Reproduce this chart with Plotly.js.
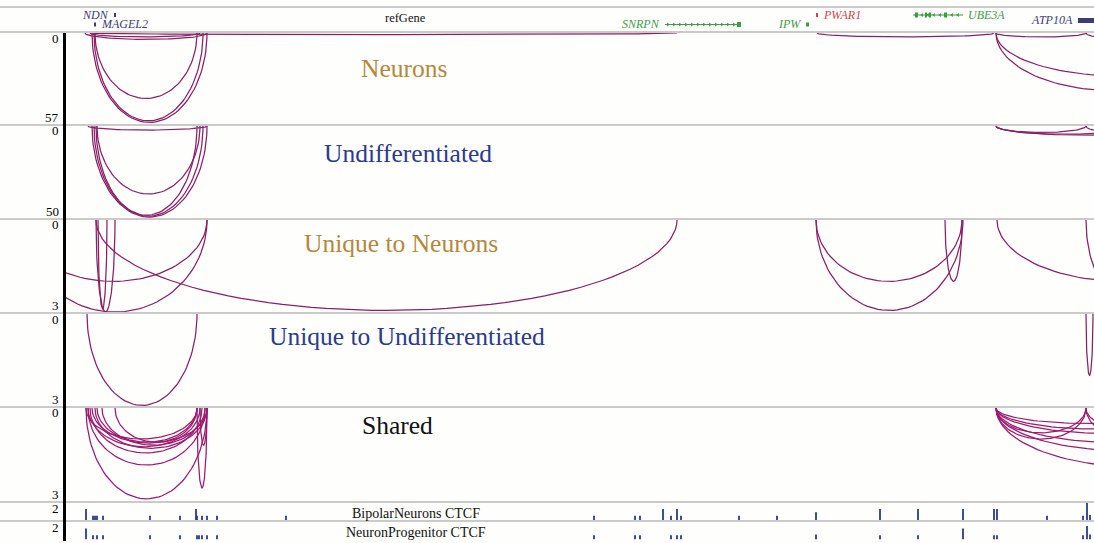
<!DOCTYPE html>
<html><head><meta charset="utf-8">
<script src="https://cdn.plot.ly/plotly-3.0.1.min.js"></script>
<style>html,body{margin:0;padding:0;background:#fefefc;} #chart{width:1094px;height:543px;}</style>
</head><body><div id="chart"></div>
<script>
// ---------- DATA ----------
const panelNames = ['Neurons', 'Undifferentiated', 'Unique to Neurons', 'Unique to Undifferentiated', 'Shared'];
const panelMax = [57, 50, 3, 3, 3];

const neuronsStart = [92, 94, 95, 85, 90, 90, 817, 996, 996, 996, 1086];
const neuronsEnd   = [207, 203, 197, 207, 200, 677, 994, 1250, 1230, 1086, 1140];
const neuronsScore = [56, 55, 41, 4, 2.5, 1, 2.5, 27, 36, 2.5, 3];

const undiffStart = [92, 94, 96, 97, 88, 996, 996, 996, 1086];
const undiffEnd   = [207, 203, 197, 200, 207, 1140, 1180, 1086, 1130];
const undiffScore = [49.5, 49, 48.5, 37, 2.2, 4.5, 5, 3.5, 3];

const uniqNeuStart = [96, 98, 96, 20, 23, 816, 816, 945, 997, 1086];
const uniqNeuEnd   = [115, 107, 677, 207, 207, 962, 963, 962, 1250, 1160];
const uniqNeuScore = [3, 2.9, 2.95, 2.0, 3.0, 2.0, 2.95, 2.0, 2.0, 2.5];

const uniqUndStart = [87, 1086];
const uniqUndEnd   = [197, 1093];
const uniqUndScore = [2.98, 2.0];

const sharedStart = [86, 88, 90, 92, 97, 102, 115, 86, 95, 88, 197, 200, 996, 996, 996, 996, 996, 996, 996, 996, 1086, 1086];
const sharedEnd   = [207, 205, 202, 207, 197, 205, 197, 197, 207, 200, 207, 207, 1086, 1086, 1180, 1200, 1220, 1240, 1260, 1280, 1150, 1180];
const sharedScore = [2.93, 1.84, 1.45, 1.13, 1.1, 1.2, 1.1, 1.0, 1.3, 1.25, 2.58, 1.2, 1.0, 0.8, 0.5, 0.68, 0.82, 1.12, 1.38, 1.9, 0.6, 1.0];

const ctcfBipolarX = [86, 93, 95, 97, 103, 150, 180, 196, 197, 202, 207, 217, 286, 594, 635, 640, 663, 671, 677, 681, 739, 777, 816, 880, 918, 963, 994, 997, 1047, 1083, 1087, 1090];
const ctcfBipolarH = [1.3, 0.5, 0.5, 0.5, 0.5, 0.5, 0.5, 1.3, 0.5, 0.5, 0.5, 0.5, 0.5, 0.5, 0.5, 0.5, 1.3, 0.5, 1.3, 0.5, 0.5, 0.5, 0.9, 1.3, 1.3, 1.3, 1.3, 1.3, 0.5, 0.5, 2.0, 0.6];
const ctcfProgX = [86, 93, 97, 103, 150, 180, 197, 199, 202, 207, 217, 594, 635, 640, 671, 677, 681, 816, 880, 918, 963, 994, 997, 1083, 1087, 1090];
const ctcfProgH = [1.3, 0.5, 0.5, 0.5, 0.5, 0.5, 0.5, 0.5, 0.5, 0.5, 0.5, 0.5, 0.5, 0.5, 0.5, 0.5, 0.5, 0.6, 0.5, 0.5, 1.3, 0.5, 0.5, 0.5, 1.6, 0.6];

const geneName  = ['NDN', 'MAGEL2', 'SNRPN', 'IPW', 'PWAR1', 'UBE3A', 'ATP10A'];
const geneStart = [114, 94, 665, 806, 816, 913, 1078];
const geneEnd   = [116, 96, 741, 809, 818, 963, 1120];
const geneRow   = [8, 17.5, 17.5, 17.5, 8, 8, 13.5];
const geneColor = ['#3c3c78', '#3c3c78', '#3f9b45', '#3f9b45', '#d4424f', '#3f9b45', '#3c3c78'];
const geneLabelSide = ['left', 'right', 'left', 'left', 'right', 'right', 'left'];
const exonGene  = [2, 5, 5, 5, 5, 6];
const exonStart = [737, 915, 925, 929, 944, 1078];
const exonEnd   = [741, 918, 927, 931, 947, 1120];

// ---------- LAYOUT HELPERS ----------
const W = 1094, H = 543;
const px = v => v / W;
const py = v => 1 - v / H;
const panelTop = [33, 126, 220, 314, 408];
const panelBot = [124, 218, 312, 406, 501];
const titleY = [68, 153, 244, 336, 425];
const titleX = [404, 408, 401, 407, 397];
const titleColor = ['#b4883c', '#2b3a8e', '#b4883c', '#2b3a8e', '#111111'];
const serif = 'Liberation Serif, Times New Roman, serif';
const arcColor = ['#8a1f66', '#8a1f66', '#8a1f66', '#8a1f66', '#9c1a70'];

function arcs(s, e, d) {
  const xs = [], ys = [];
  for (let i = 0; i < s.length; i++) {
    const c = (s[i] + e[i]) / 2, a = (e[i] - s[i]) / 2;
    for (let k = 0; k <= 60; k++) {
      const t = Math.PI * k / 60;
      xs.push(c - a * Math.cos(t));
      ys.push(d[i] * Math.sin(t));
    }
    xs.push(null); ys.push(null);
  }
  return {xs, ys};
}

const arcSets = [
  [neuronsStart, neuronsEnd, neuronsScore],
  [undiffStart, undiffEnd, undiffScore],
  [uniqNeuStart, uniqNeuEnd, uniqNeuScore],
  [uniqUndStart, uniqUndEnd, uniqUndScore],
  [sharedStart, sharedEnd, sharedScore]
];

const traces = [];
arcSets.forEach((set, i) => {
  const r = arcs(set[0], set[1], set[2]);
  traces.push({type: 'scatter', mode: 'lines', x: r.xs, y: r.ys, yaxis: 'y' + (i + 2),
    line: {color: arcColor[i], width: 1.25}, hoverinfo: 'skip', connectgaps: false});
});

// genes
geneName.forEach((g, i) => {
  traces.push({type: 'scatter', mode: 'lines', x: [geneStart[i], geneEnd[i]], y: [geneRow[i], geneRow[i]],
    yaxis: 'y', line: {color: geneColor[i], width: (geneEnd[i] - geneStart[i] < 5) ? 4 : 1}, hoverinfo: 'skip'});
  if (geneEnd[i] - geneStart[i] > 20) {
    const mx = [], my = [];
    for (let x = geneStart[i] + 3; x < geneEnd[i] - 2; x += 6) { mx.push(x); my.push(geneRow[i]); }
    traces.push({type: 'scatter', mode: 'markers', x: mx, y: my, yaxis: 'y', hoverinfo: 'skip',
      marker: {symbol: (i === 5 || i === 6) ? 'triangle-left' : 'triangle-right', size: 3.5, color: geneColor[i]}});
  }
});
exonGene.forEach((g, j) => {
  traces.push({type: 'scatter', mode: 'lines', x: [exonStart[j], exonEnd[j]], y: [geneRow[g], geneRow[g]],
    yaxis: 'y', line: {color: geneColor[g], width: 5}, hoverinfo: 'skip'});
});

// CTCF
traces.push({type: 'bar', x: ctcfBipolarX, y: ctcfBipolarH, width: 1.8, yaxis: 'y7',
  marker: {color: '#2b3a8c', line: {width: 0}}, hoverinfo: 'skip'});
traces.push({type: 'bar', x: ctcfProgX, y: ctcfProgH, width: 1.8, yaxis: 'y8',
  marker: {color: '#2b3a8c', line: {width: 0}}, hoverinfo: 'skip'});

const hidden = {showgrid: false, zeroline: false, showticklabels: false, showline: false, ticks: '', fixedrange: true};
const layout = {
  width: W, height: H, margin: {l: 0, r: 0, t: 0, b: 0},
  paper_bgcolor: '#fefefc', plot_bgcolor: 'rgba(0,0,0,0)', showlegend: false, barmode: 'overlay',
  font: {family: serif, color: '#000'},
  xaxis: Object.assign({}, hidden, {domain: [px(66), 1], range: [66, 1094], anchor: 'y8'}),
  yaxis: Object.assign({}, hidden, {domain: [py(32), py(7)], range: [25, 0], anchor: 'x'}),
  yaxis7: Object.assign({}, hidden, {domain: [py(520), py(503)], range: [0, 2], anchor: 'x'}),
  yaxis8: Object.assign({}, hidden, {domain: [py(539.5), py(522.5)], range: [0, 2], anchor: 'x'}),
  shapes: [], annotations: []
};
panelNames.forEach((n, i) => {
  layout['yaxis' + (i + 2)] = Object.assign({}, hidden, {domain: [py(panelBot[i]), py(panelTop[i])], range: [panelMax[i], 0], anchor: 'x'});
  layout.annotations.push({xref: 'paper', yref: 'paper', x: px(titleX[i]), y: py(titleY[i]), text: n,
    showarrow: false, xanchor: 'center', yanchor: 'middle', font: {family: serif, size: 25.5, color: titleColor[i]}});
  layout.annotations.push({xref: 'paper', yref: 'paper', x: px(61), y: py(panelTop[i] + 5), text: '0',
    showarrow: false, xanchor: 'right', yanchor: 'middle', font: {family: serif, size: 13, color: '#000'}});
  layout.annotations.push({xref: 'paper', yref: 'paper', x: px(61), y: py(panelBot[i] - 7), text: String(panelMax[i]),
    showarrow: false, xanchor: 'right', yanchor: 'middle', font: {family: serif, size: 13, color: '#000'}});
});
// CTCF axis labels and names
[[508, 'BipolarNeurons CTCF', 513], [527, 'NeuronProgenitor CTCF', 532.5]].forEach(a => {
  layout.annotations.push({xref: 'paper', yref: 'paper', x: px(61), y: py(a[0]), text: '2', showarrow: false,
    xanchor: 'right', yanchor: 'middle', font: {family: serif, size: 13, color: '#000'}});
  layout.annotations.push({xref: 'paper', yref: 'paper', x: px(416), y: py(a[2]), text: a[1], showarrow: false,
    xanchor: 'center', yanchor: 'middle', font: {family: serif, size: 14, color: '#111'}});
});
// gene labels
layout.annotations.push({xref: 'paper', yref: 'paper', x: px(405), y: py(18), text: 'refGene', showarrow: false,
  xanchor: 'center', yanchor: 'middle', font: {family: serif, size: 12.5, color: '#111'}});
geneName.forEach((g, i) => {
  const left = geneLabelSide[i] === 'left';
  layout.annotations.push({xref: 'x', yref: 'y', x: left ? geneStart[i] - 3 : geneEnd[i] + 3, y: geneRow[i],
    text: '<i>' + g + '</i>', showarrow: false, xanchor: left ? 'right' : 'left', yanchor: 'middle',
    font: {family: serif, size: 12, color: geneColor[i]}});
});
// separators
[7, 32, 125, 219, 313, 407, 502, 521].forEach(y => {
  layout.shapes.push({type: 'line', xref: 'paper', yref: 'paper', x0: 0, x1: 1, y0: py(y), y1: py(y),
    line: {color: '#cacaca', width: 2}, layer: 'below'});
});
layout.shapes.push({type: 'line', xref: 'paper', yref: 'paper', x0: px(64.5), x1: px(64.5), y0: py(33), y1: py(541),
  line: {color: '#000', width: 3}});

Plotly.newPlot('chart', traces, layout, {staticPlot: true, displayModeBar: false});
</script></body></html>
